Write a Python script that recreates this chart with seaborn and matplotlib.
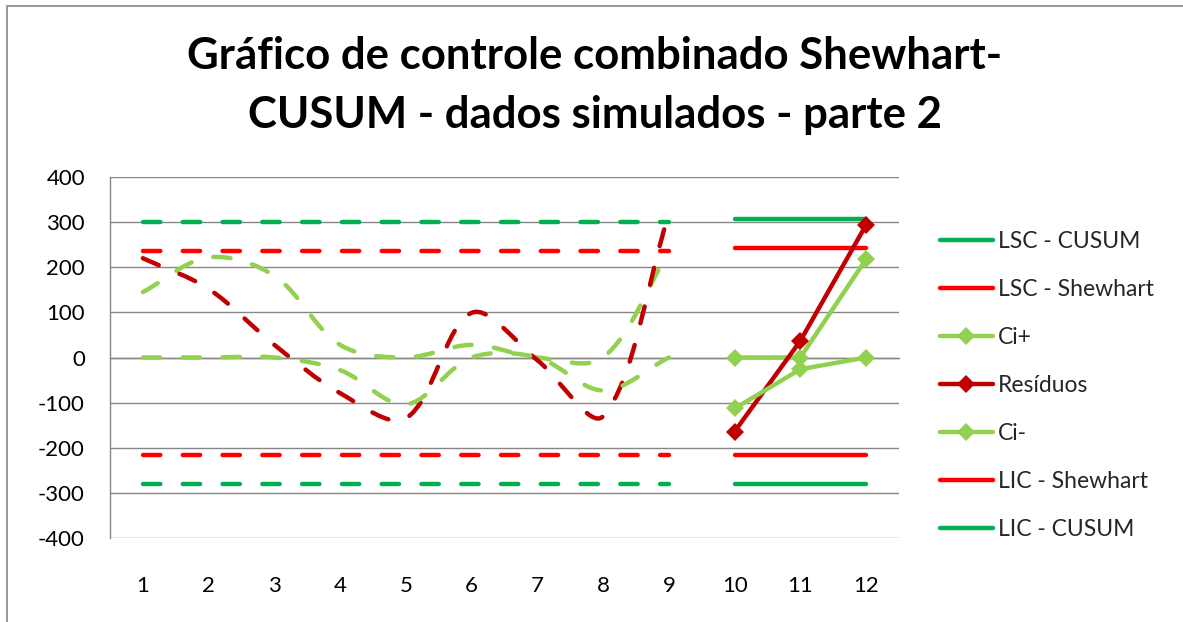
import numpy as np
import pandas as pd
import matplotlib
matplotlib.use("Agg")
import matplotlib.pyplot as plt
import seaborn as sns
from matplotlib.path import Path
from matplotlib.patches import PathPatch, Rectangle
from matplotlib.lines import Line2D

# ---------------- data ----------------
categories = [1, 2, 3, 4, 5, 6, 7, 8, 9, 10, 11, 12]
x_part1 = [1, 2, 3, 4, 5, 6, 7, 8, 9]
x_part2 = [10, 11, 12]

# part 1 (dashed, smoothed, no legend entries)
lsc_cusum_p1 = [300, 300, 300, 300, 300, 300, 300, 300, 300]
lsc_shewhart_p1 = [237, 237, 237, 237, 237, 237, 237, 237, 237]
ci_plus_p1 = [145, 222, 181, 28, 0, 28, 0, 0, 235]
residuos_p1 = [220, 152, 28, -79, -135, 99, -6, -130, 318]
ci_minus_p1 = [0, 0, 0, -28, -104, 0, 0, -73, 0]
lic_shewhart_p1 = [-217, -217, -217, -217, -217, -217, -217, -217, -217]
lic_cusum_p1 = [-280, -280, -280, -280, -280, -280, -280, -280, -280]

# part 2 (solid, with markers)
lsc_cusum_p2 = [306, 306, 306]
lsc_shewhart_p2 = [242, 242, 242]
ci_plus_p2 = [0, 0, 218]
residuos_p2 = [-164, 37, 294]
ci_minus_p2 = [-113, -26, 0]
lic_shewhart_p2 = [-217, -217, -217]
lic_cusum_p2 = [-280, -280, -280]

series_names = ["LSC - CUSUM", "LSC - Shewhart", "Ci+", "Resíduos", "Ci-",
                "LIC - Shewhart", "LIC - CUSUM"]
y_ticks = [-400, -300, -200, -100, 0, 100, 200, 300, 400]
title = "Gráfico de controle combinado Shewhart-\nCUSUM - dados simulados - parte 2"

# ---------------- style ----------------
GREEN = "#00B050"
RED = "#FF0000"
LGREEN = "#92D050"
DRED = "#C00000"
GRAY = "#868686"
colors = [GREEN, RED, LGREEN, DRED, LGREEN, RED, GREEN]
markers = [None, None, "D", "D", "D", None, None]
smooth = [False, False, True, True, True, False, False]

sns.set_theme(style="white")
plt.rcParams['font.family'] = ['Lato', 'DejaVu Sans']

W, H = 1183, 622
fig = plt.figure(figsize=(W / 100, H / 100), dpi=100)
ax = fig.add_axes([110 / W, 1 - 538 / H, (899 - 110) / W, (538 - 177) / H])

LW = 3.2
DASH = (3.9, 5.05)
XPX = (899 - 110) / 12.0      # pixels per category
YPX = (538 - 177) / 800.0     # pixels per value unit


def smooth_path(xs, ys):
    """Smoothed curve (cubic Bezier segments through the points), with the
    control-arm lengths weighted by the neighbouring segment lengths on screen."""
    pts = np.column_stack([xs, ys]).astype(float)
    scr = pts * np.array([XPX, YPX])
    n = len(pts)
    verts = [pts[0]]
    codes = [Path.MOVETO]

    def arms(i):
        p0 = scr[i - 1] if i > 0 else scr[i]
        p2 = scr[i + 1] if i + 1 < n else scr[i]
        d01 = np.hypot(*(scr[i] - p0))
        d12 = np.hypot(*(p2 - scr[i]))
        tot = d01 + d12
        if tot == 0:
            return np.zeros(2), np.zeros(2)
        t = (p2 - p0)
        left = t * d01 / (3.0 * tot)
        right = t * d12 / (3.0 * tot)
        return left / [XPX, YPX], right / [XPX, YPX]

    for i in range(n - 1):
        _, r1 = arms(i)
        l2, _ = arms(i + 1)
        c1 = pts[i] + r1
        c2 = pts[i + 1] - l2
        verts += [c1, c2, pts[i + 1]]
        codes += [Path.CURVE4] * 3
    return Path(verts, codes)


p1_data = [lsc_cusum_p1, lsc_shewhart_p1, ci_plus_p1, residuos_p1,
           ci_minus_p1, lic_shewhart_p1, lic_cusum_p1]
p2_data = [lsc_cusum_p2, lsc_shewhart_p2, ci_plus_p2, residuos_p2,
           ci_minus_p2, lic_shewhart_p2, lic_cusum_p2]

# dashed part 1
for vals, col, sm in zip(p1_data, colors, smooth):
    if sm:
        patch = PathPatch(smooth_path(x_part1, vals), fill=False, edgecolor=col,
                          lw=LW, linestyle=(0, DASH), capstyle='round', zorder=3)
        ax.add_patch(patch)
    else:
        df = pd.DataFrame({"x": x_part1, "y": vals})
        sns.lineplot(data=df, x="x", y="y", ax=ax, color=col, lw=LW,
                     legend=False, zorder=3)
        ln = ax.lines[-1]
        ln.set_dashes(DASH)
        ln.set_dash_capstyle('round')

# solid part 2
for vals, col, mk in zip(p2_data, colors, markers):
    df = pd.DataFrame({"x": x_part2, "y": vals})
    sns.lineplot(data=df, x="x", y="y", ax=ax, color=col, lw=LW,
                 marker=mk, markersize=9.5, markeredgewidth=0,
                 legend=False, zorder=4)
    ax.lines[-1].set_solid_capstyle('round')

# ---------------- axes ----------------
ax.set_xlim(0.5, 12.5)
ax.set_ylim(-400, 400)
ax.set_yticks(y_ticks)
ax.set_yticklabels([str(v) for v in y_ticks])
ax.yaxis.grid(True, color=GRAY, lw=1.0)
ax.set_axisbelow(True)
ax.set_xlabel("")
ax.set_ylabel("")
for s in ["top", "right"]:
    ax.spines[s].set_visible(False)
ax.spines["left"].set_color(GRAY)
ax.spines["left"].set_linewidth(1.0)
ax.spines["bottom"].set_position(("data", 0))
ax.spines["bottom"].set_color(GRAY)
ax.spines["bottom"].set_linewidth(1.0)
ax.set_xticks(np.arange(0.5, 13, 1.0))
ax.set_xticklabels([])
ax.tick_params(axis="x", length=6, width=1.0, color=GRAY, direction="out")
ax.tick_params(axis="y", length=6, width=1.0, color=GRAY, direction="out",
               pad=12, labelsize=16, labelcolor="black")

sec = ax.secondary_xaxis("bottom")
sec.set_xticks(categories)
sec.set_xticklabels([str(c) for c in categories])
sec.tick_params(length=0, pad=27, labelsize=16, labelcolor="black")
sec.spines["bottom"].set_visible(False)

# ---------------- legend ----------------
handles = []
for col, mk in zip(colors, markers):
    handles.append(Line2D([], [], color=col, lw=LW, marker=mk, markersize=9.5,
                          markeredgewidth=0, solid_capstyle='round'))
fig.legend(handles, series_names, loc="center left",
           bbox_to_anchor=(940 / W, 1 - 385.7 / H), frameon=False,
           fontsize=16.5, handlelength=2.3, handletextpad=0.22,
           labelspacing=1.18, borderpad=0, borderaxespad=0)

# ---------------- title ----------------
fig.text(595 / W, 1 - 128 / H, title, ha="center", va="baseline",
         fontsize=31.5, fontweight="bold", color="black", linespacing=1.58,
         multialignment="center")

# ---------------- chart border ----------------
fig.add_artist(Rectangle((7 / W, -0.1), 1.2, 1.1 - 6 / H,
                         transform=fig.transFigure, fill=False,
                         edgecolor=GRAY, lw=1.2))

fig.savefig("out.png", dpi=100)
